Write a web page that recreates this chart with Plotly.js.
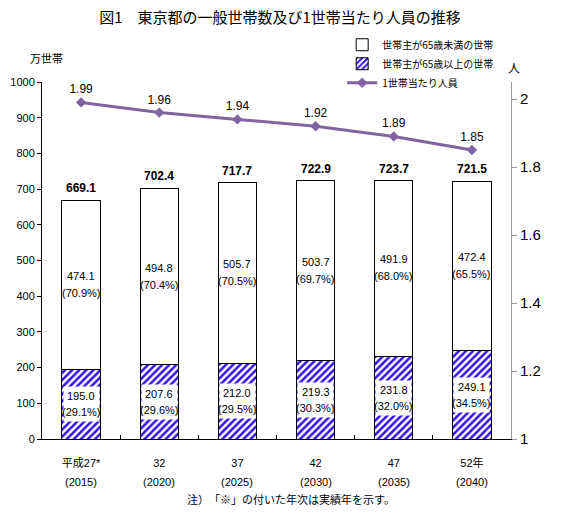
<!DOCTYPE html>
<html>
<head>
<meta charset="utf-8">
<script src="https://cdn.plot.ly/plotly-3.0.1.min.js"></script>
<style>html,body{margin:0;padding:0;background:#fff}#chart{width:575px;height:519px}</style>
</head>
<body>
<div id="chart"></div>
<script>
const categories = ["平成27*", "32", "37", "42", "47", "52年"];
const yearLabels = ["(2015)", "(2020)", "(2025)", "(2030)", "(2035)", "(2040)"];
const under65 = [474.1, 494.8, 505.7, 503.7, 491.9, 472.4];
const under65Pct = [70.9, 70.4, 70.5, 69.7, 68.0, 65.5];
const over65 = [195.0, 207.6, 212.0, 219.3, 231.8, 249.1];
const over65Pct = [29.1, 29.6, 29.5, 30.3, 32.0, 34.5];
const totals = [669.1, 702.4, 717.7, 722.9, 723.7, 721.5];
const perHousehold = [1.99, 1.96, 1.94, 1.92, 1.89, 1.85];

const FONT = "'Liberation Sans', 'Noto Sans CJK JP', sans-serif";
const JFONT = "'Noto Sans CJK JP', sans-serif";

const traces = [
  {
    type: 'bar', name: '世帯主が65歳以上の世帯', x: categories, y: over65,
    marker: {color: '#3311ee', line: {color: '#000', width: 1},
      pattern: {shape: '/', fgcolor: '#3311ee', bgcolor: '#ffffff', size: 5, solidity: 0.5}},
    legendrank: 2, hoverinfo: 'skip'
  },
  {
    type: 'bar', name: '世帯主が65歳未満の世帯', x: categories, y: under65,
    marker: {color: '#ffffff', line: {color: '#000', width: 1}},
    legendrank: 1, hoverinfo: 'skip'
  },
  {
    type: 'scatter', mode: 'lines+markers+text', name: '1世帯当たり人員', x: categories, y: perHousehold,
    yaxis: 'y2', line: {color: '#8064a2', width: 3}, marker: {symbol: 'diamond', size: 8, color: '#8064a2'},
    text: perHousehold.map(v => v.toFixed(2)), textposition: 'top center',
    textfont: {family: FONT, size: 12, color: '#000'}, cliponaxis: false,
    legendrank: 3, hoverinfo: 'skip'
  }
];

const annotations = [];
const lbl = {family: FONT, size: 11, color: '#000'};
categories.forEach((c, i) => {
  annotations.push({x: i, y: totals[i], xref: 'x', yref: 'y', text: '<b>' + totals[i].toFixed(1) + '</b>',
    showarrow: false, yanchor: 'bottom', yshift: 3, font: {family: FONT, size: 12, color: '#000'}});
  const yTop = over65[i] + under65[i] / 2;
  annotations.push({x: i, y: yTop, xref: 'x', yref: 'y', text: under65[i].toFixed(1),
    showarrow: false, yshift: 9, font: lbl});
  annotations.push({x: i, y: yTop, xref: 'x', yref: 'y', text: '(' + under65Pct[i].toFixed(1) + '%)',
    showarrow: false, yshift: -8, font: lbl});
  const yBot = over65[i] / 2;
  annotations.push({x: i, y: yBot, xref: 'x', yref: 'y', text: ' ',
    showarrow: false, bgcolor: '#ffffff', width: 35, height: 34, borderpad: 0, font: lbl});
  annotations.push({x: i, y: yBot, xref: 'x', yref: 'y', text: over65[i].toFixed(1),
    showarrow: false, yshift: 8, font: lbl});
  annotations.push({x: i, y: yBot, xref: 'x', yref: 'y', text: '(' + over65Pct[i].toFixed(1) + '%)',
    showarrow: false, yshift: -8, font: lbl});
  annotations.push({x: i, y: 0, xref: 'x', yref: 'paper', text: yearLabels[i], yanchor: 'top',
    showarrow: false, yshift: -35, font: lbl});
});
annotations.push({xref: 'paper', yref: 'paper', x: 0.01, y: 1.04, xanchor: 'center', yanchor: 'bottom',
  text: '万世帯', showarrow: false, font: {family: JFONT, size: 11, color: '#000'}});
annotations.push({xref: 'paper', yref: 'paper', x: 0.99, y: 1.01, xanchor: 'left', yanchor: 'bottom',
  text: '人', showarrow: false, font: {family: JFONT, size: 12, color: '#000'}});
annotations.push({xref: 'paper', yref: 'paper', x: 0.53, y: -0.14, xanchor: 'center', yanchor: 'top',
  text: '注）　「※」の付いた年次は実績年を示す。', showarrow: false, font: {family: JFONT, size: 11, color: '#000'}});

const layout = {
  width: 575, height: 519,
  margin: {l: 42, r: 64, t: 82, b: 80},
  paper_bgcolor: '#fff', plot_bgcolor: '#fff',
  font: {family: FONT, size: 11, color: '#000'},
  title: {text: '図1　東京都の一般世帯数及び1世帯当たり人員の推移', x: 0.487, xref: 'container', xanchor: 'center',
    y: 0.965, yref: 'container', yanchor: 'middle', font: {family: JFONT, size: 15, color: '#000', weight: 400}},
  barmode: 'stack', bargap: 0.51,
  showlegend: true,
  legend: {x: 0.64, y: 1.145, xanchor: 'left', yanchor: 'top', traceorder: 'normal',
    font: {family: JFONT, size: 10, color: '#000'}, tracegroupgap: 0, itemwidth: 30, bgcolor: 'rgba(0,0,0,0)'},
  xaxis: {type: 'category', range: [-0.5, 5.5], showline: true, linecolor: '#000', linewidth: 1, ticks: 'inside', tickson: 'boundaries',
    ticklen: 4, tickcolor: '#000', showgrid: false, zeroline: false, ticklabelstandoff: 14, tickangle: 0,
    tickfont: {family: FONT, size: 11, color: '#000'}},
  yaxis: {range: [0, 1000], dtick: 100, showline: true, linecolor: '#000', linewidth: 1, ticks: 'outside', ticklen: 4,
    tickcolor: '#000', showgrid: false, zeroline: false, tickfont: {family: FONT, size: 11, color: '#000'}},
  yaxis2: {overlaying: 'y', side: 'right', range: [1, 2.05], tickvals: [1, 1.2, 1.4, 1.6, 1.8, 2],
    ticktext: ['1', '1.2', '1.4', '1.6', '1.8', '2'], showline: true, linecolor: '#999', linewidth: 1,
    ticks: 'outside', ticklen: 5, tickcolor: '#999', showgrid: false, zeroline: false,
    tickfont: {family: FONT, size: 15, color: '#000'}},
  annotations: annotations
};

Plotly.newPlot('chart', traces, layout, {displayModeBar: false, staticPlot: true});
</script>
</body>
</html>
